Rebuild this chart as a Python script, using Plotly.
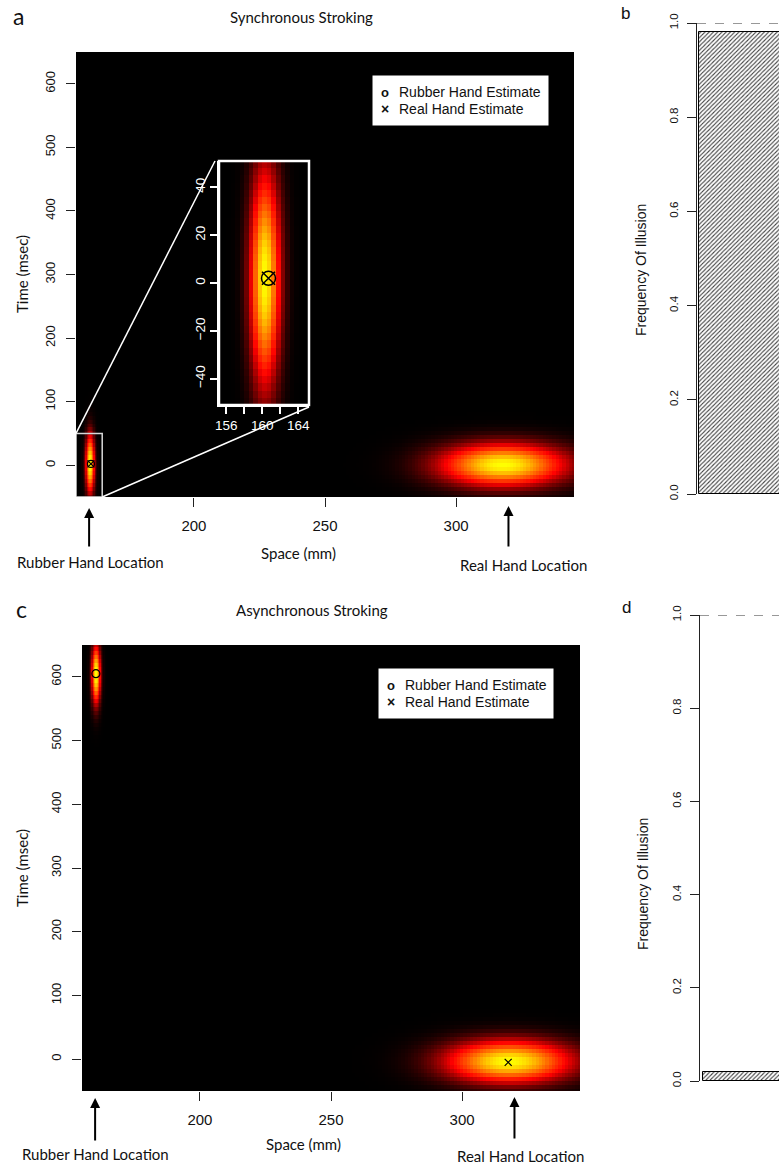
import numpy as np
import plotly.graph_objects as go

W, H = 779, 1165

# ---------------- data ----------------
space_range = [155, 345]          # mm
time_range = [-50, 650]           # msec
space_ticks = [200, 250, 300]
time_ticks = [0, 100, 200, 300, 400, 500, 600]

rubber_loc = 160                  # mm
real_loc = 320                    # mm

# posterior density blobs: centre (space, time) and spread (sd space, sd time)
sync_rubber_blob = dict(cx=160.3, ct=2, sx=1.1, st=30)
sync_real_blob = dict(cx=318, ct=0, sx=16, st=22)
async_rubber_blob = dict(cx=160.3, ct=604, sx=1.1, st=30)
async_real_blob = dict(cx=318, ct=-4, sx=16, st=22)

# estimates (space mm, time msec)
sync_rubber_est = (160.7, 2)
sync_real_est = (160.7, 2)
async_rubber_est = (160.3, 605)
async_real_est = (317.6, -5)

# zoom window
inset_space = [155.2, 165.2]
inset_time = [-51, 51]
inset_space_ticks = [156, 158, 160, 162, 164]
inset_space_labels = ["156", "", "160", "", "164"]
inset_time_ticks = [-40, -20, 0, 20, 40]

# frequency of illusion
freq_sync = [0.98]
freq_async = [0.02]
freq_ticks = [0.0, 0.2, 0.4, 0.6, 0.8, 1.0]

# ---------------- helpers ----------------
ARIAL = "Liberation Sans, Arial, sans-serif"
CALI = "Lato, Open Sans, sans-serif"
HEAT = [[0.0, "#000000"], [0.4, "#ff0000"], [1.0, "#ffff00"]]


def dx(a, b):
    return [a / W, b / W]


def dy(top, bottom):
    return [1 - bottom / H, 1 - top / H]


def px(x):
    return x / W


def py(y):
    return 1 - y / H


def density(blob, xs, ts):
    X, T = np.meshgrid(xs, ts)
    return np.exp(-0.5 * (((X - blob["cx"]) / blob["sx"]) ** 2
                          + ((T - blob["ct"]) / blob["st"]) ** 2))


coarse_x = np.arange(155.0, 345.01, 1.25)
coarse_t = np.arange(-50.0, 650.01, 6.25)
fine_x = np.arange(155.25, 165.3, 0.5)
inset_x = np.arange(155.25, 165.3, 0.5)
inset_t = np.arange(-49.5, 51.0, 3.0)

dom = {
    "a": (dx(76, 574), dy(52, 497)),
    "in": (dx(219, 309), dy(161, 405)),
    "b": (dx(697, 779), dy(23, 494)),
    "c": (dx(82, 580), dy(645, 1091)),
    "d": (dx(700, 779), dy(615, 1081)),
}


def data_to_paper(v, rng, d):
    return d[0] + (v - rng[0]) / (rng[1] - rng[0]) * (d[1] - d[0])


fig = go.Figure()


def heat(xs, ts, z, xa, ya):
    fig.add_trace(go.Heatmap(x=xs, y=ts, z=z, colorscale=HEAT, zmin=0, zmax=1,
                             showscale=False, zsmooth=False, hoverinfo="skip",
                             xaxis=xa, yaxis=ya))


# panel a: synchronous stroking
heat(coarse_x, coarse_t, density(sync_real_blob, coarse_x, coarse_t), "x", "y")
heat(fine_x, coarse_t, density(sync_rubber_blob, fine_x, coarse_t), "x", "y")
# inset
heat(inset_x, inset_t, density(sync_rubber_blob, inset_x, inset_t), "x2", "y2")
# panel c: asynchronous stroking
heat(coarse_x, coarse_t, density(async_real_blob, coarse_x, coarse_t), "x4", "y4")
heat(fine_x, coarse_t, density(async_rubber_blob, fine_x, coarse_t), "x4", "y4")


def est(pt, symbol, size, width, xa, ya):
    fig.add_trace(go.Scatter(x=[pt[0]], y=[pt[1]], mode="markers", hoverinfo="skip",
                             marker=dict(symbol=symbol, size=size, color="black",
                                         line=dict(color="black", width=width)),
                             showlegend=False, xaxis=xa, yaxis=ya))


est(sync_rubber_est, "circle-open", 7, 1.2, "x", "y")
est(sync_real_est, "x-thin-open", 7, 1.2, "x", "y")
est(sync_rubber_est, "circle-open", 14, 1.5, "x2", "y2")
est(sync_real_est, "x-thin-open", 13, 1.5, "x2", "y2")
est(async_rubber_est, "circle-open", 8, 1.2, "x4", "y4")
est(async_real_est, "x-thin-open", 7, 1.2, "x4", "y4")

# frequency bars
pattern = dict(shape="/", fgcolor="#404040", bgcolor="#ffffff", size=3, solidity=0.35)
fig.add_trace(go.Bar(x=[1], y=freq_sync, width=1, xaxis="x3", yaxis="y3",
                     marker=dict(color="#ffffff", pattern=pattern,
                                 line=dict(color="black", width=1)),
                     showlegend=False, hoverinfo="skip"))
fig.add_trace(go.Bar(x=[1], y=freq_async, width=1, xaxis="x5", yaxis="y5",
                     marker=dict(color="#ffffff", pattern=pattern,
                                 line=dict(color="black", width=1)),
                     showlegend=False, hoverinfo="skip"))

# ---------------- axes ----------------
tick_font = dict(family=ARIAL, size=15, color="#111")
ytick_font = dict(family=ARIAL, size=13, color="#111")


def heat_axes(xd, yd, anchor_x, anchor_y):
    xa = dict(domain=xd, range=space_range, anchor=anchor_y, tickvals=space_ticks,
              ticks="outside", ticklen=9, tickcolor="#222", showgrid=False,
              zeroline=False, showline=False, tickfont=tick_font,
              ticklabelstandoff=6, fixedrange=True, automargin=False)
    ya = dict(domain=yd, range=time_range, anchor=anchor_x, tickvals=time_ticks,
              ticks="outside", ticklen=9, tickcolor="#222", showgrid=False,
              zeroline=False, showline=False, tickfont=ytick_font, tickangle=-90,
              ticklabelstandoff=6, fixedrange=True, automargin=False)
    return xa, ya


xa1, ya1 = heat_axes(dom["a"][0], dom["a"][1], "x", "y")
xa4, ya4 = heat_axes(dom["c"][0], dom["c"][1], "x4", "y4")

white_font = dict(family=ARIAL, size=13.5, color="white")
xa2 = dict(domain=dom["in"][0], range=inset_space, anchor="y2",
           tickvals=inset_space_ticks, ticktext=inset_space_labels,
           ticks="outside", ticklen=7, tickcolor="white", tickwidth=1.5,
           showline=True, linecolor="white", linewidth=2, showgrid=False,
           zeroline=False, tickfont=white_font, fixedrange=True, automargin=False)
ya2 = dict(domain=dom["in"][1], range=inset_time, anchor="x2",
           tickvals=inset_time_ticks, ticks="outside", ticklen=7,
           tickcolor="white", tickwidth=1.5, showline=True, linecolor="white",
           linewidth=2, showgrid=False, zeroline=False, tickfont=white_font,
           tickangle=-90, fixedrange=True, automargin=False)


def bar_axes(xd, yd, xr, anchor_x, anchor_y):
    xa = dict(domain=xd, range=xr, anchor=anchor_y, showticklabels=False,
              ticks="", showgrid=False, zeroline=False, showline=False,
              fixedrange=True, automargin=False)
    ya = dict(domain=yd, range=[0, 1], anchor=anchor_x, tickvals=freq_ticks,
              ticktext=[f"{v:.1f}" for v in freq_ticks], ticks="outside",
              ticklen=9, tickcolor="#222", showline=True, linecolor="#222",
              linewidth=1, showgrid=False, zeroline=False, tickangle=-90,
              tickfont=dict(family=ARIAL, size=11.5, color="#111"),
              ticklabelstandoff=4, fixedrange=True, automargin=False)
    return xa, ya


xa3, ya3 = bar_axes(dom["b"][0], dom["b"][1], [0.48, 1.48], "x3", "y3")
xa5, ya5 = bar_axes(dom["d"][0], dom["d"][1], [0.46, 1.46], "x5", "y5")

# ---------------- shapes ----------------
shapes = []
# zoom window on the main map and the inset frame
shapes.append(dict(type="rect", xref="x", yref="y", x0=inset_space[0] - 0.2,
                   x1=inset_space[1] - 0.2, y0=-50, y1=50,
                   line=dict(color="#d8d8d8", width=1.5), layer="above"))
ix0, ix1 = dom["in"][0]
iy0, iy1 = dom["in"][1]
shapes.append(dict(type="rect", xref="paper", yref="paper", x0=ix0, x1=ix1,
                   y0=iy0, y1=iy1, line=dict(color="white", width=2.5), layer="above"))
ax_d, ay_d = dom["a"]
shapes.append(dict(type="line", xref="paper", yref="paper",
                   x0=data_to_paper(inset_space[0] - 0.2, space_range, ax_d),
                   y0=data_to_paper(50, time_range, ay_d),
                   x1=ix0 - 4 / W, y1=iy1,
                   line=dict(color="white", width=1.5), layer="above"))
shapes.append(dict(type="line", xref="paper", yref="paper",
                   x0=data_to_paper(inset_space[1] - 0.2, space_range, ax_d),
                   y0=data_to_paper(-50, time_range, ay_d),
                   x1=ix1, y1=iy0 - 2 / H,
                   line=dict(color="white", width=1.5), layer="above"))
# reference line at 1.0
for xr, yr in (("x3 domain", "y3"), ("x5 domain", "y5")):
    shapes.append(dict(type="line", xref=xr, yref=yr, x0=0, x1=1, y0=1, y1=1,
                       line=dict(color="#333", width=1, dash="dash"), layer="above"))
# legend boxes
for (l, t, r, b) in ((372, 75, 549, 126), (378, 668, 554, 719)):
    shapes.append(dict(type="rect", xref="paper", yref="paper", x0=px(l), x1=px(r),
                       y0=py(b), y1=py(t), fillcolor="white",
                       line=dict(color="black", width=1), layer="above"))

# ---------------- annotations ----------------
ann = []


def text(s, x, y, size, family, xanchor="center", angle=0, color="#111"):
    ann.append(dict(text=s, x=px(x), y=py(y), xref="paper", yref="paper",
                    xanchor=xanchor, yanchor="middle", showarrow=False,
                    textangle=angle, font=dict(family=family, size=size, color=color)))


text("a", 18, 16, 23, CALI)
text("Synchronous Stroking", 301, 17, 15, CALI)
text("c", 21, 609, 23, CALI)
text("Asynchronous Stroking", 312, 610, 15, CALI)
text("b", 625, 14, 17, ARIAL)
text("d", 626, 607, 17, ARIAL)

text("Time (msec)", 22, 274, 15, CALI, angle=-90)
text("Time (msec)", 22, 868, 15, CALI, angle=-90)
text("Space (mm)", 298, 553, 15, CALI)
text("Space (mm)", 303, 1144, 15, CALI)
text("Rubber Hand Location", 90, 562, 15, CALI)
text("Real Hand Location", 523, 565, 15, CALI)
text("Rubber Hand Location", 95, 1154, 15, CALI)
text("Real Hand Location", 520, 1156, 15, CALI)

text("Frequency Of Illusion", 641, 270, 14, ARIAL, angle=-90)
text("Frequency Of Illusion", 643, 884, 14, ARIAL, angle=-90)

# legends
for (l, t) in ((372, 75), (378, 668)):
    text("<b>o</b>", l + 13, t + 17, 13, ARIAL)
    text("<b>×</b>", l + 13, t + 34, 14, ARIAL)
    text("Rubber Hand Estimate", l + 25, t + 17, 14, ARIAL, xanchor="left")
    text("Real Hand Estimate", l + 25, t + 34, 14, ARIAL, xanchor="left")

# location arrows
for xa, loc, head, tail in (("x", rubber_loc, 508, 548), ("x", real_loc, 506, 548),
                            ("x4", rubber_loc, 1098, 1142), ("x4", real_loc, 1097, 1140)):
    ann.append(dict(text="", x=loc, xref=xa, y=py(head), yref="paper",
                    ax=0, ay=tail - head, showarrow=True, arrowhead=2,
                    arrowsize=1, arrowwidth=2, arrowcolor="black"))

fig.update_layout(
    template="none",
    width=W, height=H, margin=dict(l=0, r=0, t=0, b=0, autoexpand=False),
    paper_bgcolor="white", plot_bgcolor="white", showlegend=False,
    xaxis=xa1, yaxis=ya1, xaxis2=xa2, yaxis2=ya2, xaxis3=xa3, yaxis3=ya3,
    xaxis4=xa4, yaxis4=ya4, xaxis5=xa5, yaxis5=ya5,
    shapes=shapes, annotations=ann, bargap=0,
)

fig.write_html("out.html")
